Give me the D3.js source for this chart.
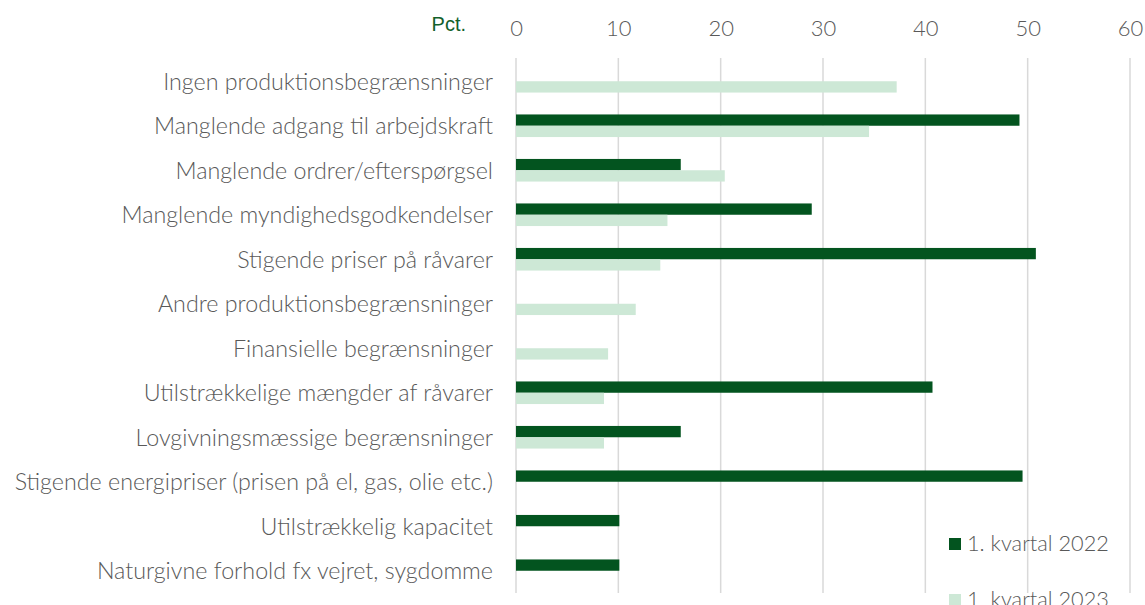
<!DOCTYPE html>
<html>
<head>
<meta charset="utf-8">
<script src="https://cdn.jsdelivr.net/npm/d3@7"></script>
<style>
  html, body { margin: 0; padding: 0; background: #ffffff; }
  svg { display: block; }
</style>
</head>
<body>
<svg id="chart" width="1145" height="605"></svg>
<script>
const categories = [
  "Ingen produktionsbegrænsninger",
  "Manglende adgang til arbejdskraft",
  "Manglende ordrer/efterspørgsel",
  "Manglende myndighedsgodkendelser",
  "Stigende priser på råvarer",
  "Andre produktionsbegrænsninger",
  "Finansielle begrænsninger",
  "Utilstrækkelige mængder af råvarer",
  "Lovgivningsmæssige begrænsninger",
  "Stigende energipriser (prisen på el, gas, olie etc.)",
  "Utilstrækkelig kapacitet",
  "Naturgivne forhold fx vejret, sygdomme"
];
const seriesNames = ["1. kvartal 2022", "1. kvartal 2023"];
const values2022 = [null, 49.2, 16.1, 28.9, 50.8, null, null, 40.7, 16.1, 49.5, 10.1, 10.1];
const values2023 = [37.2, 34.5, 20.4, 14.8, 14.1, 11.7, 9.0, 8.6, 8.6, null, null, null];
const xTicks = [0, 10, 20, 30, 40, 50, 60];
const axisTitle = "Pct.";

const colors = ["#03541f", "#cde8d6"];
const textColor = "#595959";
const bodyFont = "Lato, 'Open Sans', 'Noto Sans', sans-serif";

const svg = d3.select("#chart");

const x = d3.scaleLinear().domain([0, 60]).range([516, 1130]);
const y = d3.scaleBand().domain(categories).range([59, 593]).padding(0);
const barH = 11.3;
const ySub = d3.scaleBand().domain(seriesNames)
  .range([y.bandwidth() / 2 - barH, y.bandwidth() / 2 + barH]).padding(0);

function fitSize(sample, target, weight, family, base) {
  const t = svg.append("text").attr("font-family", family).attr("font-weight", weight)
    .attr("font-size", base).text(sample);
  const w = t.node().getComputedTextLength();
  t.remove();
  return base * target / w;
}

const labelSize = fitSize("Ingen produktionsbegrænsninger", 330, 300, bodyFont, 22);
const tickSize = 22;
const legendSize = fitSize("1. kvartal 2022", 142, 300, bodyFont, 22);

// gridlines
svg.append("g").selectAll("line").data(xTicks).join("line")
  .attr("x1", d => x(d)).attr("x2", d => x(d))
  .attr("y1", 58).attr("y2", 593)
  .attr("stroke", "#d9d9d9").attr("stroke-width", 1.5);

// top axis labels via d3 axis
const axis = d3.axisTop(x).tickValues(xTicks).tickSize(0).tickPadding(0).tickFormat(d3.format("d"));
const gAxis = svg.append("g").attr("transform", "translate(0,36)").call(axis);
gAxis.select(".domain").remove();
gAxis.selectAll("text")
  .attr("fill", textColor)
  .attr("font-family", bodyFont)
  .attr("font-weight", 300)
  .attr("font-size", tickSize)
  .attr("dy", 0);

// axis title
svg.append("text")
  .attr("x", 466).attr("y", 31)
  .attr("text-anchor", "end")
  .attr("font-family", "'Liberation Sans', Arial, sans-serif")
  .attr("font-size", 20)
  .attr("fill", "#12612b")
  .text(axisTitle);

// category labels
svg.append("g").selectAll("text").data(categories).join("text")
  .attr("x", 493)
  .attr("y", d => y(d) + y.bandwidth() / 2)
  .attr("dy", "0.36em")
  .attr("text-anchor", "end")
  .attr("font-family", bodyFont)
  .attr("font-weight", 300)
  .attr("font-size", labelSize)
  .attr("fill", textColor)
  .text(d => d);

// bars
const seriesData = [values2022, values2023];
seriesData.forEach((vals, si) => {
  const data = categories.map((c, i) => ({ c, v: vals[i] })).filter(d => d.v != null);
  svg.append("g").selectAll("rect").data(data).join("rect")
    .attr("x", x(0))
    .attr("y", d => y(d.c) + ySub(seriesNames[si]))
    .attr("width", d => x(d.v) - x(0))
    .attr("height", ySub.bandwidth())
    .attr("fill", colors[si]);
});

// legend
const legend = svg.append("g").attr("transform", "translate(949,538)");
const items = legend.selectAll("g").data(seriesNames).join("g")
  .attr("transform", (d, i) => `translate(0,${i * 56})`);
items.append("rect").attr("width", 12).attr("height", 12).attr("fill", (d, i) => colors[i]);
items.append("text")
  .attr("x", 18).attr("y", 13)
  .attr("font-family", bodyFont)
  .attr("font-weight", 300)
  .attr("font-size", legendSize)
  .attr("fill", textColor)
  .text(d => d);
</script>
</body>
</html>
